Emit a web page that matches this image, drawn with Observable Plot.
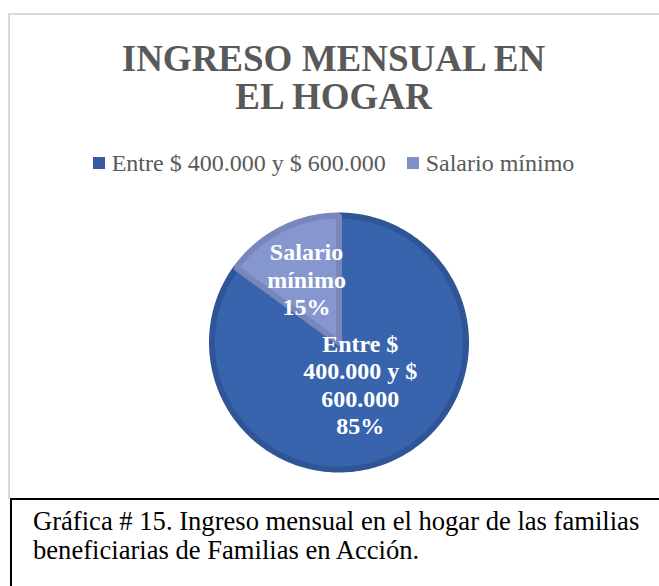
<!DOCTYPE html>
<html><head><meta charset="utf-8">
<script src="https://cdn.jsdelivr.net/npm/d3@7"></script>
<script src="https://cdn.jsdelivr.net/npm/@observablehq/plot@0.6"></script>
<style>
body{margin:0;width:659px;height:586px;position:relative;overflow:hidden;background:#fff;font-family:"Liberation Serif","Times New Roman",serif;}
#frame{position:absolute;left:8px;top:13px;width:660px;height:486px;border-left:2px solid #d9d9d9;border-top:2px solid #d9d9d9;box-sizing:border-box;}
#title{position:absolute;left:8px;width:651px;top:40px;text-align:center;font-weight:bold;font-size:37px;line-height:38px;color:#595959;}
#legend{position:absolute;left:8px;width:651px;top:151px;display:flex;justify-content:center;font-size:24px;line-height:24px;color:#595959;white-space:nowrap;}
#legend .item{display:flex;align-items:center;}
#legend .item + .item{margin-left:21px;}
#legend .sw{width:12px;height:12px;margin-right:7px;display:inline-block;}
#chart{position:absolute;left:0;top:192px;}
#capbox{position:absolute;left:10px;top:498px;width:660px;height:100px;border-left:2px solid #000;border-top:2px solid #000;box-sizing:border-box;}
#caption{position:absolute;left:33px;top:507px;font-size:26.6px;line-height:29px;color:#000;white-space:nowrap;}
</style></head>
<body>
<div id="frame"></div>
<div id="title">INGRESO MENSUAL EN<br>EL HOGAR</div>
<div id="legend"></div>
<div id="chart"></div>
<div id="capbox"></div>
<div id="caption">Gráfica # 15. Ingreso mensual en el hogar de las familias<br>beneficiarias de Familias en Acción.</div>
<script>
const categories = ["Entre $ 400.000 y $ 600.000", "Salario mínimo"];
const values = [85, 15];
const labelTexts = ["Entre $\n400.000 y $\n600.000\n85%", "Salario\nmínimo\n15%"];
const fills = ["#3864ae", "#8697d0"];
const strokes = ["#2f5597", "#7886bc"];
const legendColors = ["#3559a6", "#8090c8"];

// legend
const legend = document.getElementById("legend");
categories.forEach((c, i) => {
  const it = document.createElement("div");
  it.className = "item";
  it.innerHTML = `<span class="sw" style="background:${legendColors[i]}"></span><span>${c}</span>`;
  legend.appendChild(it);
});

const W = 659, H = 300;
const cx = 338.5, cy = 150, R = 130, bw = 6;
const labelFrac = [0.36, 0.55];

const data = categories.map((c, i) => ({category: c, value: values[i], label: labelTexts[i], i}));
const arcs = d3.pie().sort(null).value(d => d.value)(data);

const slicePts = arcs.map(a => {
  const r = R - bw / 2;
  const pts = [{x: cx, y: cy}];
  const n = Math.max(2, Math.ceil((a.endAngle - a.startAngle) / (Math.PI / 180)));
  for (let k = 0; k <= n; k++) {
    const t = a.startAngle + (a.endAngle - a.startAngle) * k / n;
    pts.push({x: cx + r * Math.sin(t), y: cy - r * Math.cos(t)});
  }
  pts.push({x: cx, y: cy});
  return pts;
});

const labels = arcs.map((a, i) => {
  const m = (a.startAngle + a.endAngle) / 2;
  const r = R * labelFrac[i];
  return {x: cx + r * Math.sin(m), y: cy - r * Math.cos(m), text: a.data.label};
});

const plot = Plot.plot({
  width: W, height: H,
  margin: 0,
  x: {domain: [0, W], range: [0, W], axis: null},
  y: {domain: [0, H], range: [0, H], axis: null},
  marks: [
    ...slicePts.map((pts, i) => Plot.line(pts, {x: "x", y: "y", fill: fills[i], stroke: strokes[i], strokeWidth: bw, strokeLinejoin: "miter", curve: "linear"})),
    Plot.text(labels, {x: "x", y: "y", text: "text", fill: "white", fontSize: 24, fontWeight: "bold", fontFamily: "Liberation Serif, Times New Roman, serif", lineHeight: 1.15, textAnchor: "middle"})
  ]
});
plot.style.background = "transparent";
document.getElementById("chart").appendChild(plot);
</script>
</body></html>
